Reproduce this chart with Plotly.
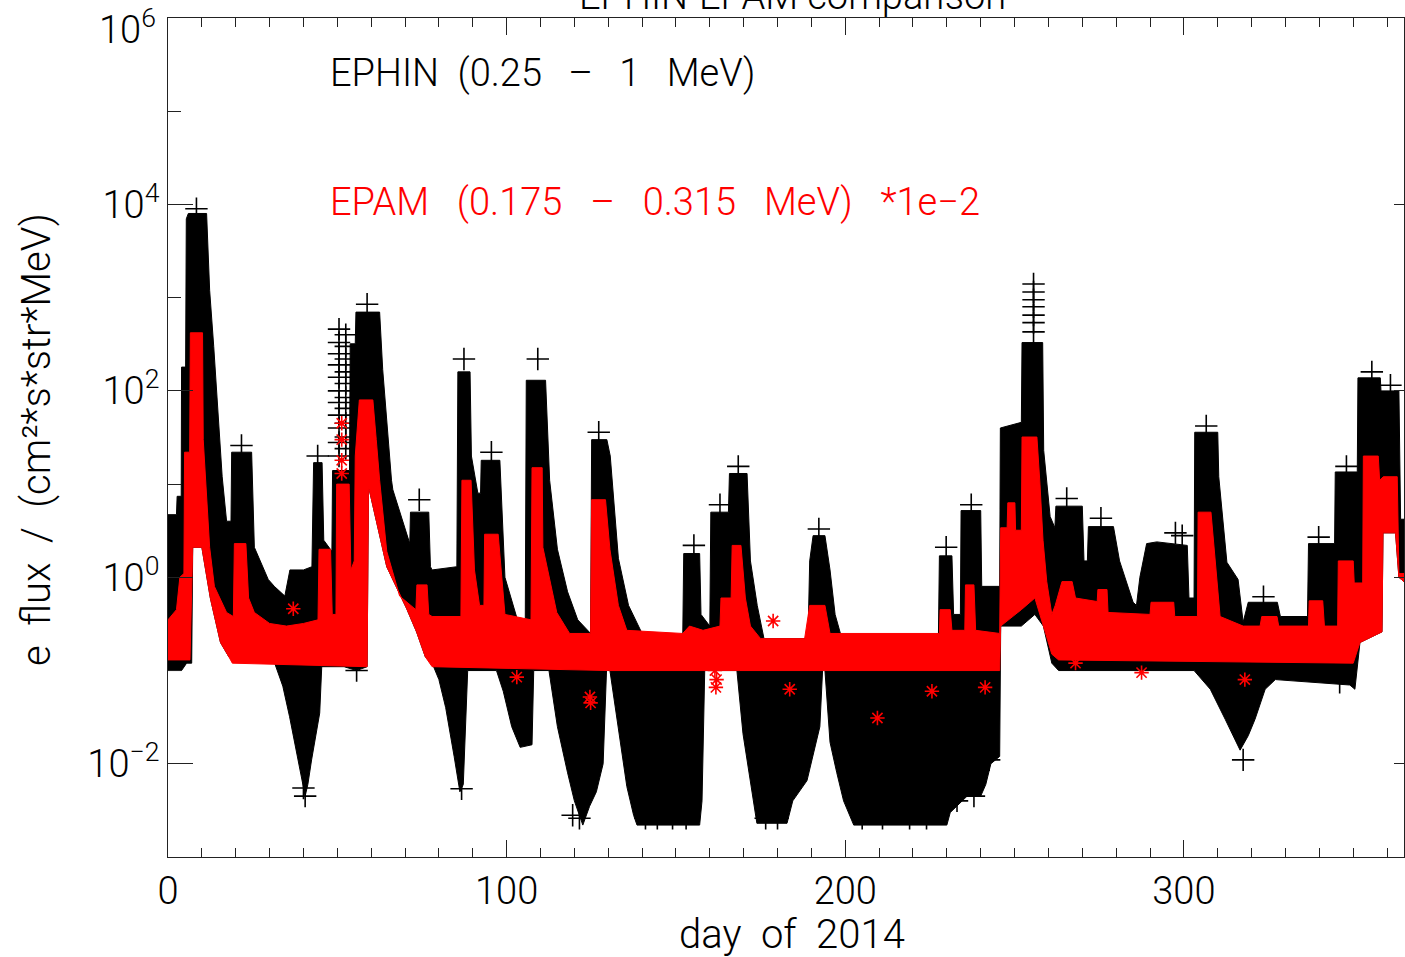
import plotly.graph_objects as go

# EPHIN 0.25-1 MeV electron flux: upper / lower edge of the point cloud (day of 2014, flux)
ephin_hi_day = [0, 2.5, 2.7, 3.9, 4.0, 5.2, 5.4, 6.0, 11.4, 12.3, 13.5, 14.7, 16.0, 17.3, 18.6, 18.8,
                24.7, 25.5, 29.6, 31.4, 34.5, 36.0, 40.0, 42.5, 43.0, 45.5, 46.0, 48.4, 48.6, 53.6,
                53.8, 55.3, 55.5, 62.5, 63.4, 66.0, 66.4, 71.4, 71.6, 77.0, 77.5, 78.0, 84.0, 85.3,
                85.6, 89.2, 89.6, 91.5, 92.3, 92.5, 98.0, 99.5, 103.0, 105.5, 105.8, 111.5, 112.7,
                115.0, 118.0, 121.0, 124.8, 125.1, 129.6, 130.6, 133.0, 136.0, 140.0, 152.0, 152.3,
                157.0, 157.4, 160.0, 160.3, 165.5, 165.8, 171.0, 172.0, 174.0, 176.0, 189.0, 189.5,
                190.5, 194.0, 195.5, 197.0, 199.0, 227.5, 227.8, 231.5, 232.0, 234.0, 234.2, 240.0,
                240.3, 245.6, 245.8, 252.0, 252.2, 258.3, 258.6, 260.5, 261.9, 262.2, 270.0, 270.5,
                271.5, 271.8, 279.2, 281.0, 285.0, 286.0, 287.0, 289.0, 292.0, 301.0, 301.5, 303.0,
                303.2, 310.0, 310.3, 312.7, 316.0, 317.5, 319.0, 327.6, 328.5, 336.5, 336.8, 344.5,
                344.7, 351.2, 351.4, 358.0, 358.2, 363.5, 364.0, 365.0]
ephin_hi = [4.7, 4.7, 7.4, 7.4, 180, 180, 7000, 8000, 8000, 1200, 300, 60, 12, 4, 4, 22,
            22, 2.1, 0.95, 0.8, 0.63, 1.2, 1.2, 1.3, 17, 17, 2.5, 1.9, 14, 14,
            320, 320, 700, 700, 170, 11, 8.7, 2.3, 5, 5, 1.3, 1.2, 1.3, 1.3,
            160, 160, 20, 8, 8, 18, 18, 1.0, 0.37, 0.3, 130, 130, 11,
            2, 0.7, 0.35, 0.25, 30, 30, 20, 1.6, 0.5, 0.25, 0.22, 1.8,
            1.8, 0.4, 0.3, 5, 5, 13, 13, 1.5, 0.5, 0.22, 0.22, 1.5,
            2.8, 2.8, 1.2, 0.4, 0.22, 0.22, 1.7, 1.7, 0.4, 0.4, 5.2, 5.2,
            0.8, 0.8, 40, 46, 330, 330, 23, 4.5, 3.4, 5.8, 5.8, 1.5,
            1.5, 3.5, 3.5, 1.5, 0.54, 0.5, 1.0, 2.3, 2.4, 2.2, 0.6, 0.6,
            36, 36, 12, 1.45, 0.95, 0.33, 0.54, 0.54, 0.38, 0.38, 2.3, 2.3,
            13.5, 13.5, 138, 138, 100, 100, 4.2, 4.2]

ephin_lo_day = [0, 4.0, 5.5, 7.0, 7.3, 10.0, 12.5, 15.5, 18.0, 30.5, 31.5, 33.9, 35.9, 37.4, 39.7,
                40.5, 41.3, 42.4, 44.8, 45.4, 52.0, 55.7, 58.8, 59.2, 64.6, 70.5, 73.4, 76.0, 78.0,
                80.0, 82.0, 84.5, 86.2, 87.2, 88.5, 97.0, 99.0, 101.5, 104.0, 107.5, 108.0, 112.5,
                115.0, 118.0, 120.0, 122.5, 124.5, 126.5, 128.5, 129.5, 130.5, 133.5, 135.5, 137.5,
                138.5, 157.0, 157.7, 158.5, 168.0, 169.8, 171.8, 173.9, 182.8, 184.5, 188.7, 191.6,
                192.5, 193.3, 194.0, 195.5, 197.5, 199.5, 202.5, 230.0, 231.0, 236.0, 240.0, 241.5,
                243.0, 245.6, 245.9, 252.0, 256.0, 258.5, 261.0, 263.0, 303.0, 307.8, 312.2, 316.6,
                319.0, 321.0, 324.0, 327.0, 349.0, 350.5, 352.0, 358.5, 358.8, 362.5, 363.5, 365.0]
ephin_lo = [0.1, 0.1, 0.12, 0.12, 2.1, 2.1, 0.6, 0.2, 0.14, 0.12, 0.12, 0.068, 0.032, 0.018, 0.0063,
            0.0045, 0.006, 0.011, 0.035, 0.11, 0.11, 0.1, 0.11, 9.5, 1.3, 0.46, 0.26, 0.14, 0.12,
            0.08, 0.04, 0.012, 0.005, 0.006, 0.1, 0.1, 0.06, 0.025, 0.015, 0.016, 0.1, 0.1,
            0.025, 0.008, 0.004, 0.0022, 0.0035, 0.005, 0.01, 0.1, 0.1, 0.018, 0.0057, 0.0028,
            0.0022, 0.0022, 0.004, 0.1, 0.1, 0.021, 0.0072, 0.0023, 0.0023, 0.004, 0.0066, 0.018,
            0.025, 0.1, 0.1, 0.017, 0.008, 0.004, 0.0022, 0.0022, 0.003, 0.0045, 0.0045, 0.006,
            0.01, 0.012, 0.3, 0.3, 0.4, 0.3, 0.12, 0.1, 0.1, 0.063, 0.03, 0.014,
            0.02, 0.03, 0.063, 0.08, 0.07, 0.063, 0.2, 0.26, 3, 3, 1, 0.9]

# EPAM 0.175-0.315 MeV electron flux scaled by 1e-2: upper / lower edge of the point cloud
epam_hi_day = [0, 2.5, 3.5, 4.7, 4.9, 6.4, 6.6, 10.2, 10.4, 12.3, 13.7, 17.3, 19.3, 19.6, 23.0, 23.8,
               25.5, 30.0, 35.0, 40.0, 44.3, 44.6, 48.0, 48.5, 49.6, 49.8, 53.5, 54.0, 55.0, 55.3,
               56.5, 60.5, 61.5, 62.5, 64.6, 68.4, 73.2, 73.5, 76.5, 77.0, 78.0, 86.5, 86.8, 89.5,
               90.5, 92.0, 93.3, 93.5, 97.5, 98.5, 99.5, 107.2, 107.5, 110.5, 110.7, 114.8, 118.6,
               124.8, 125.1, 129.2, 130.5, 133.0, 135.5, 152.0, 154.0, 158.0, 163.0, 163.3, 166.3,
               166.6, 169.2, 170.5, 172.0, 175.0, 188.0, 189.5, 194.0, 195.5, 227.8, 228.0, 231.0,
               231.5, 235.3, 235.5, 238.0, 238.5, 245.6, 245.9, 247.8, 248.0, 250.1, 250.3, 252.0,
               252.2, 256.6, 257.5, 258.4, 259.5, 261.0, 262.0, 264.0, 267.0, 268.0, 274.4, 274.6,
               277.3, 277.6, 290.0, 290.3, 297.0, 297.3, 304.0, 304.2, 308.0, 309.3, 310.7, 317.5,
               322.5, 323.0, 327.5, 328.0, 336.8, 337.0, 341.0, 341.5, 345.4, 345.6, 350.0, 350.3,
               352.8, 353.0, 357.4, 357.8, 358.9, 363.0, 363.5, 365.0]
epam_hi = [0.35, 0.45, 1.0, 1.1, 22, 22, 420, 420, 30, 2.1, 0.8, 0.42, 0.38, 2.3, 2.3, 0.6,
           0.42, 0.32, 0.3, 0.32, 0.35, 2.0, 2.0, 0.4, 0.4, 10, 10, 1.2, 1.5, 20,
           80, 80, 30, 11, 1.9, 0.63, 0.45, 0.83, 0.83, 0.4, 0.38, 0.38, 11, 11,
           1.2, 0.5, 0.5, 2.9, 2.9, 1.0, 0.4, 0.35, 15, 15, 2.1, 0.42, 0.25,
           0.25, 6.8, 6.8, 2, 0.5, 0.27, 0.25, 0.3, 0.27, 0.3, 0.6, 0.6,
           2.2, 2.2, 0.6, 0.3, 0.22, 0.22, 0.5, 0.5, 0.25, 0.25, 0.45, 0.45,
           0.27, 0.27, 0.83, 0.83, 0.27, 0.25, 3.4, 3.4, 6.3, 6.3, 3.2, 3.2,
           32, 32, 10, 2.5, 0.9, 0.4, 0.5, 0.9, 0.9, 0.6, 0.55, 0.74,
           0.74, 0.42, 0.4, 0.54, 0.54, 0.38, 0.38, 5, 5, 1.3, 0.38, 0.3,
           0.3, 0.38, 0.38, 0.3, 0.3, 0.56, 0.56, 0.3, 0.3, 1.5, 1.5, 0.87,
           0.87, 20, 20, 11, 12, 12, 1.1, 1.1]

epam_lo_day = [0, 6.5, 7.3, 10.0, 12.5, 15.5, 18.0, 19.0, 58.8, 59.2, 64.6, 70.5, 73.4, 76.0, 78.0,
               130.0, 245.6, 245.9, 252.0, 256.0, 258.5, 261.0, 263.0, 350.0, 352.0, 358.5, 358.8,
               362.5, 363.5, 365.0]
epam_lo = [0.13, 0.13, 2.1, 2.1, 0.6, 0.2, 0.14, 0.12, 0.11, 9.5, 1.3, 0.46, 0.26, 0.14, 0.11,
           0.1, 0.1, 0.3, 0.45, 0.6, 0.3, 0.15, 0.13, 0.12, 0.2, 0.26, 3,
           3, 1, 0.9]

# single EPHIN points standing clear of the cloud
ephin_pt_day = [8.4, 21.7, 44.2,
                50.5, 50.5, 50.5, 50.5, 50.5, 50.5, 50.5, 50.5, 50.5, 50.5, 50.5,
                52.5, 52.5, 52.5, 52.5, 52.5, 52.5, 52.5, 52.5, 52.5, 52.5,
                58.8, 74.2, 87.4, 95.5, 109.2, 127.2, 155.3, 163.0, 168.4, 192.2, 229.8, 237.2,
                255.6, 255.6, 255.6, 255.6, 255.6, 255.6, 255.6,
                265.4, 275.5, 297.5, 299.5, 306.6, 323.5, 339.8, 348.0, 355.5, 361.0,
                40.0, 40.5, 55.7, 86.7, 317.5, 346.0,
                119.5, 121.5, 141.0, 144.5, 149.0, 153.0, 176.5, 180.0, 205.0, 211.0, 219.0, 224.0,
                233.0, 238.0, 242.5]
ephin_pt = [9000, 26, 20,
            460, 330, 250, 190, 140, 100, 75, 55, 40, 28, 20,
            400, 300, 220, 160, 120, 85, 65, 45, 32, 24,
            850, 6.8, 220, 22, 220, 36, 2.2, 6, 15.5, 3.3, 2.1, 6,
            1400, 1150, 950, 800, 650, 540, 430,
            7, 4.3, 3, 2.8, 42, 0.62, 2.7, 15.5, 160, 115,
            0.0055, 0.0045, 0.1, 0.0054, 0.011, 0.075,
            0.0028, 0.0026, 0.0026, 0.0026, 0.0026, 0.0026, 0.0026, 0.0026, 0.0026, 0.0026, 0.0026, 0.0026,
            0.004, 0.0045, 0.011]

# single EPAM points standing clear of the cloud
epam_pt_day = [37.0, 51.3, 51.3, 51.3, 51.3, 103.0, 124.6, 124.8, 161.5, 162.0, 161.8,
               178.7, 183.6, 209.5, 225.6, 241.3, 268.0, 287.5, 318.0]
epam_pt = [0.46, 45, 30, 18, 13, 0.085, 0.052, 0.045, 0.1, 0.08, 0.066,
           0.34, 0.063, 0.031, 0.06, 0.066, 0.12, 0.095, 0.08]

y_major = [1e-2, 1, 1e2, 1e4, 1e6]
y_major_text = ["10<sup>\u22122</sup>", "10<sup>0</sup>", "10<sup>2</sup>", "10<sup>4</sup>", ""]
y_minor = [1e-1, 1e1, 1e3, 1e5]
x_major = [0, 100, 200, 300]

FONT = "Roboto"
FW = 300
FS = 38
AX = "#222222"
SP = "\u00a0\u00a0 "   # wide word gap
TS = "\u00a0\u2009 "    # medium word gap
NS = "\u00a0 "          # plain double gap


def band(hi_day, hi, lo_day, lo):
    """Closed outline: upper edge left to right, lower edge back right to left."""
    return list(hi_day) + list(lo_day)[::-1], list(hi) + list(lo)[::-1]


fig = go.Figure()

bx, by = band(ephin_hi_day, ephin_hi, ephin_lo_day, ephin_lo)
fig.add_trace(go.Scatter(x=bx, y=by, mode="lines", fill="toself", fillcolor="black",
                         line=dict(color="black", width=1), hoverinfo="skip"))
fig.add_trace(go.Scatter(x=ephin_pt_day, y=ephin_pt, mode="markers", hoverinfo="skip",
                         marker=dict(symbol="cross-thin", size=16, color="black",
                                     line=dict(color="black", width=1.6))))

rx, ry = band(epam_hi_day, epam_hi, epam_lo_day, epam_lo)
fig.add_trace(go.Scatter(x=rx, y=ry, mode="lines", fill="toself", fillcolor="#ff0000",
                         line=dict(color="#ff0000", width=1), hoverinfo="skip"))
fig.add_trace(go.Scatter(x=epam_pt_day, y=epam_pt, mode="markers", hoverinfo="skip",
                         marker=dict(symbol="asterisk", size=12, color="#ff0000",
                                     line=dict(color="#ff0000", width=1.6))))

# carrier for the right-hand axis
fig.add_trace(go.Scatter(x=[None], y=[None], yaxis="y2", mode="markers", hoverinfo="skip"))

tick_font = dict(family=FONT, size=FS, weight=FW, color="black")

fig.update_layout(
    width=1405, height=957,
    margin=dict(l=168, r=1, t=18, b=100),
    paper_bgcolor="white", plot_bgcolor="white",
    showlegend=False,
    font=dict(family=FONT, size=FS, weight=FW, color="black"),
    xaxis=dict(range=[0, 365], showline=True, linecolor=AX, linewidth=1, mirror="ticks",
               ticks="inside", ticklen=17, tickwidth=1, tickcolor=AX,
               tickvals=x_major, ticktext=[str(v) for v in x_major],
               minor=dict(ticks="inside", ticklen=9, tickwidth=1, tickcolor=AX, dtick=10, tick0=0,
                          showgrid=False),
               showgrid=False, zeroline=False, tickfont=tick_font),
    yaxis=dict(type="log", range=[-3, 6], showline=True, linecolor=AX, linewidth=1, mirror=True,
               ticks="inside", ticklen=25, tickwidth=1, tickcolor=AX,
               tickvals=y_major, ticktext=y_major_text,
               minor=dict(ticks="inside", ticklen=13, tickwidth=1, tickcolor=AX,
                          tickmode="array", tickvals=y_minor, showgrid=False),
               showgrid=False, zeroline=False, tickfont=tick_font),
    yaxis2=dict(type="log", range=[-3, 6], overlaying="y", side="right", showline=False,
                ticks="inside", ticklen=10, tickwidth=1, tickcolor=AX,
                tickvals=y_major, showticklabels=False, showgrid=False, zeroline=False),
)


def px_x(p):
    return (p - 168) / 1236


def px_y(p):
    return (857 - p) / 839


def label(text, x, y, xanchor="center", yanchor="middle", color="black", size=FS, angle=0):
    fig.add_annotation(text=text, xref="paper", yref="paper", x=px_x(x), y=px_y(y),
                       xanchor=xanchor, yanchor=yanchor, showarrow=False, textangle=angle,
                       font=dict(family=FONT, size=size, weight=FW, color=color))


# top-most decade label sits just inside the frame
label("10<sup>6</sup>", 158, 27, xanchor="right")
label("EPHIN-EPAM comparison", 792, 20, yanchor="bottom")
label("EPHIN" + NS + "(0.25" + TS + "\u2013" + TS + "1" + TS + "MeV)", 328, 73, xanchor="left")
label("EPAM" + SP + "(0.175" + SP + "\u2013" + SP + "0.315" + SP + "MeV)" + SP + "*1e\u22122",
      328, 202, xanchor="left", color="#ff0000")
label("day\u00a0 of\u00a0 2014", 792, 934, size=40)
label("e\u00a0 flux\u00a0 /\u00a0 (cm\u00b2*s*str*MeV)", 36, 440, angle=-90, size=40)

fig.write_html("out.html")
